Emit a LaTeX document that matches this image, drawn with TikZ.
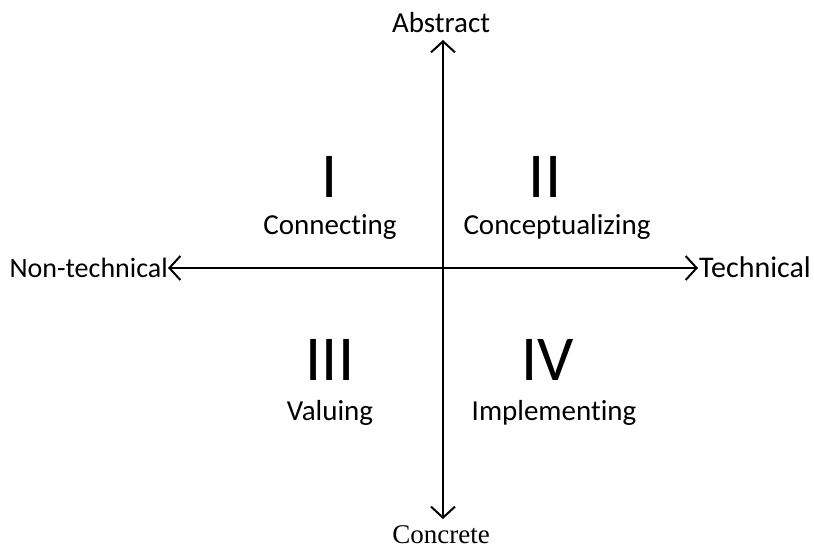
\documentclass[tikz,border=0pt]{standalone}
\usepackage{fontspec}
\setmainfont[Ligatures=NoCommon]{Carlito}
\newfontfamily\timesfont{Liberation Serif}
\usetikzlibrary{arrows.meta}
\begin{document}
\begin{tikzpicture}[x=1pt,y=-1pt,
  axis/.style={line width=2pt,{Straight Barb[length=11pt,width=24pt,line width=2pt]}-{Straight Barb[length=11pt,width=24pt,line width=2pt]}},
  lbl/.style={font=\fontsize{29}{32}\selectfont,inner sep=0pt},
  num/.style={font=\fontsize{64}{70}\selectfont,inner sep=0pt}]
\useasboundingbox (0,0) rectangle (814,549);
\coordinate (top) at (443,40);
\coordinate (bot) at (443,519);
\coordinate (lft) at (168,268);
\coordinate (rgt) at (698,268);
\draw[axis] (top) -- (bot);
\draw[axis] (lft) -- (rgt);
\node[lbl,anchor=base] (abs) at (441,32) {Abstract};
\node[lbl,font=\timesfont\fontsize{27}{30}\selectfont,anchor=base] (con) at (441,543) {Concrete};
\node[lbl,font=\fontsize{28}{31}\selectfont,anchor=base east] (nt) at (168,277) {Non-technical};
\node[lbl,font=\fontsize{30}{33}\selectfont,anchor=base west] (te) at (699,277) {Technical};
\node[num,anchor=base] (n1) at (330,197) {I};
\node[num,anchor=base] (n2) at (545,197) {II};
\node[num,anchor=base] (n3) at (330,380) {III};
\node[num,anchor=base] (n4) at (548,380) {IV};
\node[lbl,anchor=base] (c1) at (330,234) {Connecting};
\node[lbl,anchor=base] (c2) at (557,234) {Conceptualizing};
\node[lbl,anchor=base] (c3) at (330,420) {Valuing};
\node[lbl,anchor=base] (c4) at (554,420) {Implementing};
\end{tikzpicture}
\end{document}
